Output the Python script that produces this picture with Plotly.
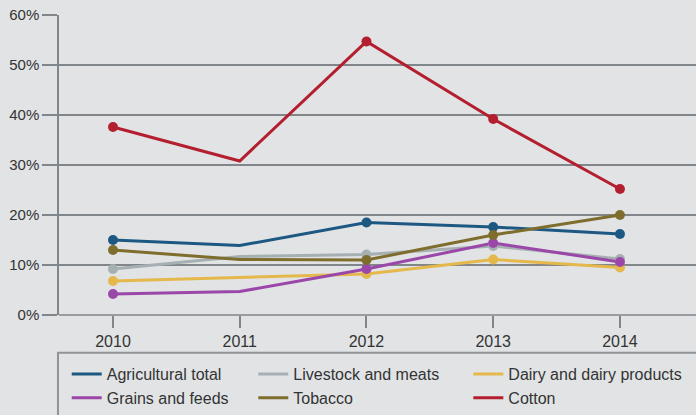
import plotly.graph_objects as go

years = [2010, 2011, 2012, 2013, 2014]
y_ticks = [0, 10, 20, 30, 40, 50, 60]
y_tick_labels = ["0%", "10%", "20%", "30%", "40%", "50%", "60%"]

agricultural_total = [15.0, 13.9, 18.5, 17.6, 16.2]
livestock_meats = [9.2, 11.7, 12.1, 13.8, 11.2]
dairy_products = [6.8, 7.5, 8.2, 11.1, 9.5]
grains_feeds = [4.2, 4.7, 9.2, 14.4, 10.6]
tobacco = [13.0, 11.1, 11.0, 16.0, 20.0]
cotton = [37.6, 30.8, 54.7, 39.2, 25.2]

series = [
    ("Agricultural total", agricultural_total, "#1d5882", "legend"),
    ("Livestock and meats", livestock_meats, "#a6b0b3", "legend2"),
    ("Dairy and dairy products", dairy_products, "#e5b84c", "legend3"),
    ("Grains and feeds", grains_feeds, "#9b47a9", "legend"),
    ("Tobacco", tobacco, "#7e6d2c", "legend2"),
    ("Cotton", cotton, "#b31f2e", "legend3"),
]
marker_sizes = [10, 0, 10, 10, 10]

fig = go.Figure()
for name, vals, color, lg in series:
    fig.add_trace(go.Scatter(
        x=years, y=vals, mode="lines", name=name,
        line=dict(color=color, width=3), legend=lg, showlegend=True,
    ))
for name, vals, color, lg in series:
    fig.add_trace(go.Scatter(
        x=years, y=vals, mode="markers", name=name,
        marker=dict(color=color, size=marker_sizes, opacity=1, line=dict(width=0)),
        showlegend=False,
    ))

bg = "#e1e3e5"
grid = "#80868a"
txt = "#333333"
font_family = "Liberation Sans, Arial, sans-serif"

legend_common = dict(
    orientation="v", bgcolor="rgba(0,0,0,0)", borderwidth=0,
    font=dict(family=font_family, size=16, color=txt),
    xanchor="left", yanchor="top", y=-0.14, tracegroupgap=0,
    itemwidth=30,
)

fig.update_layout(
    width=696, height=415,
    margin=dict(l=59, r=0, t=15, b=100),
    paper_bgcolor=bg, plot_bgcolor=bg,
    font=dict(family=font_family, size=15, color=txt),
    legend=dict(legend_common, x=0.0121),
    legend2=dict(legend_common, x=0.305),
    legend3=dict(legend_common, x=0.6426),
    xaxis=dict(
        range=[2009.574, 2014.6], tickvals=years, ticktext=[str(y) for y in years],
        showgrid=False, zeroline=False, showline=False,
        ticks="outside", ticklen=12, tickwidth=1.5, tickcolor=grid,
        tickfont=dict(size=16, color=txt),
    ),
    yaxis=dict(
        range=[0, 60], tickvals=y_ticks, ticktext=y_tick_labels,
        showgrid=True, gridcolor=grid, gridwidth=1.5,
        zeroline=False, showline=True, linecolor=grid, linewidth=1.5,
        ticks="outside", ticklen=15, tickwidth=1.5, tickcolor=grid,
        tickfont=dict(size=15, color=txt),
    ),
    shapes=[
        dict(type="line", xref="paper", yref="paper", x0=0, x1=1, y0=0, y1=0,
             line=dict(color=grid, width=1.5)),
        dict(type="rect", xref="paper", yref="paper", x0=-0.0016, x1=1.02,
             y0=-0.5, y1=-0.1257, line=dict(color="#8f9497", width=2),
             fillcolor="rgba(0,0,0,0)", layer="below"),
    ],
    showlegend=True,
)

fig.write_html("out.html")
